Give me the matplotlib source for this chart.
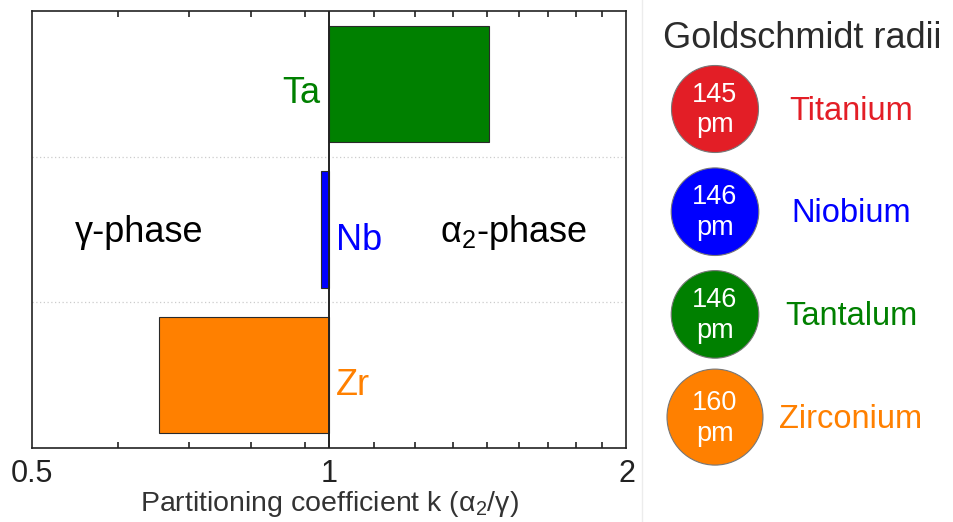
import matplotlib
matplotlib.use("Agg")
import matplotlib.pyplot as plt
from matplotlib.patches import Circle
from matplotlib.ticker import FixedLocator, NullFormatter

plt.rcParams['font.family'] = ['Liberation Sans', 'DejaVu Sans']
plt.rcParams['mathtext.fontset'] = 'custom'
plt.rcParams['mathtext.rm'] = 'Liberation Sans'
plt.rcParams['mathtext.it'] = 'Liberation Sans:italic'

# partitioning coefficients k (alpha2 / gamma), bottom to top
elements = ['Zr', 'Nb', 'Ta']
k_values = [0.673, 0.982, 1.45]
bar_colors = ['#ff8000', '#0000ff', '#008000']

# Goldschmidt radii panel
radii_names = ['Titanium', 'Niobium', 'Tantalum', 'Zirconium']
radii_pm = [145, 146, 146, 160]
radii_colors = ['#e31e26', '#0000ff', '#008000', '#ff8000']

x_ticks = [0.5, 1, 2]
x_ticklabels = ['0.5', '1', '2']
minor_ticks = [0.5 + n / 9 for n in range(1, 5)] + [1 + n / 9 for n in range(1, 9)]

fig = plt.figure(figsize=(9.54, 5.22), dpi=100)
ax = fig.add_axes([0.0332, 0.1418, 0.6235, 0.8371])

# bars grow out of k = 1
for i, (el, k, c) in enumerate(zip(elements, k_values, bar_colors)):
    ax.barh(i, k - 1, left=1, height=0.8, color=c, edgecolor='#2a2a2a', linewidth=0.8, zorder=3)
    if k > 1:
        ax.annotate(el, (1, i), xytext=(-6, -13.5), textcoords='offset points',
                    ha='right', va='baseline', fontsize=26, color=c)
    else:
        ax.annotate(el, (1, i), xytext=(5, -14.5), textcoords='offset points',
                    ha='left', va='baseline', fontsize=26, color=c)

ax.axvline(1, color='#222222', linewidth=1.4, zorder=4)
for yb in [0.5, 1.5]:
    ax.axhline(yb, color='#cccccc', linestyle=(0, (1, 2)), linewidth=0.9, zorder=1)

ax.set_xscale('log', base=2)
ax.set_xlim(0.5, 2)
ax.set_ylim(-0.5, 2.5)
ax.set_yticks([])
ax.set_xticks(x_ticks)
ax.set_xticklabels(x_ticklabels)
ax.xaxis.set_minor_locator(FixedLocator(minor_ticks))
ax.xaxis.set_minor_formatter(NullFormatter())
ax.tick_params(axis='x', which='major', length=0, pad=8, labelsize=22, colors='#222222')
ax.tick_params(axis='x', which='minor', direction='in', length=4, width=1.2,
               top=True, bottom=True, color='#222222')
for sp in ax.spines.values():
    sp.set_linewidth(1.2)
    sp.set_color('#222222')

ax.set_xlabel(r'Partitioning coefficient k ($\mathregular{α_2/γ}$)',
              fontsize=20.5, color='#333333')
ax.xaxis.set_label_coords(0.5, -0.093)

ax.text(0.073, 0.471, 'γ-phase', transform=ax.transAxes, fontsize=26, va='baseline', ha='left')
ax.text(0.686, 0.471, r'$\mathregular{α_2}$-phase', transform=ax.transAxes,
        fontsize=26, va='baseline', ha='left')

# right panel drawn in pixel coordinates
ax2 = fig.add_axes([0, 0, 1, 1])
ax2.set_xlim(0, 954)
ax2.set_ylim(522, 0)
ax2.axis('off')
ax2.patch.set_visible(False)

ax2.plot([642, 642], [0, 522], color='#ececec', linewidth=1)
ax2.text(802, 38, 'Goldschmidt radii', ha='center', va='center', fontsize=26, color='#2b2b2b')

for i, (name, r, c) in enumerate(zip(radii_names, radii_pm, radii_colors)):
    cy = 109 + i * 102.7
    ax2.add_patch(Circle((715, cy), r * 0.3, facecolor=c, edgecolor='#777777', linewidth=0.8))
    ax2.text(715, cy + 1, f'{r}\npm', ha='center', va='center', fontsize=19.5,
             color='white', linespacing=1.25)
    ax2.text(851, cy + 2, name, ha='center', va='center', fontsize=23.5, color=c)

fig.savefig('out.png', dpi=100)
